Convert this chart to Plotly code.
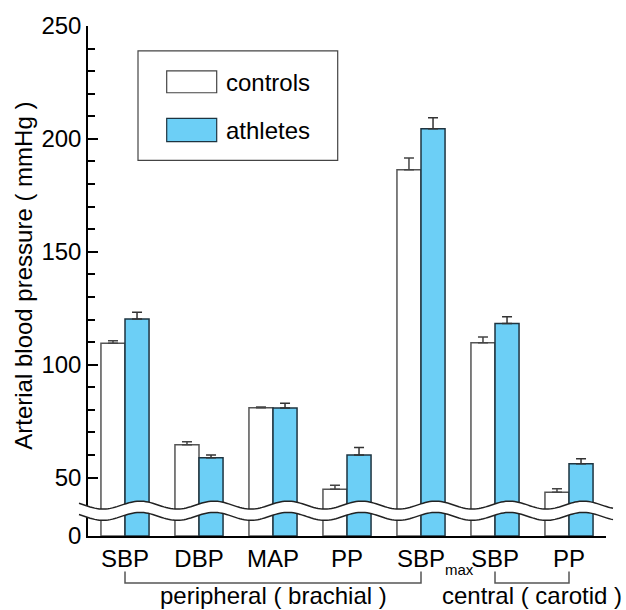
import numpy as np
import plotly.graph_objects as go
from plotly.subplots import make_subplots

# Measurements (mmHg)
labels = ["SBP", "DBP", "MAP", "PP", "SBP", "SBP", "PP"]
controls = [109.5, 64.6, 81.0, 44.9, 186.3, 109.7, 43.5]
controls_sem = [1.1, 1.3, 0.3, 1.7, 5.2, 2.6, 1.6]
athletes = [120.3, 58.8, 80.8, 60.0, 204.5, 118.2, 56.1]
athletes_sem = [2.9, 1.2, 2.1, 3.3, 4.9, 3.0, 2.3]
y_major = [50, 100, 150, 200, 250]
y_minor = [60, 70, 80, 90, 110, 120, 130, 140, 160, 170, 180, 190, 210, 220, 230, 240]

W, H = 626, 610
ML, MR, MT, MB = 88, 20, 24, 74
PW, PH = W - ML - MR, H - MT - MB
FONT = "Arial, Liberation Sans, Helvetica, sans-serif"
BLUE = "#6ccff6"
x = list(range(len(labels)))


def px_x(p):
    return (p - ML) / PW


def px_y(p):
    return (H - MB - p) / PH


split = px_y(510.7)  # fraction of the plot height used by the low (0) segment

fig = make_subplots(rows=2, cols=1, shared_xaxes=True, vertical_spacing=0)

bar_c = dict(name="controls", marker=dict(color="white", line=dict(color="#555555", width=1.5)))
bar_a = dict(name="athletes", marker=dict(color=BLUE, line=dict(color="#1e3440", width=1.5)))

# upper segment with error bars
fig.add_trace(go.Bar(x=x, y=controls, **bar_c,
                     error_y=dict(type="data", array=controls_sem, arrayminus=[0] * len(x),
                                  symmetric=False, color="#444444", thickness=1.5, width=5)),
              row=1, col=1)
fig.add_trace(go.Bar(x=x, y=athletes, **bar_a,
                     error_y=dict(type="data", array=athletes_sem, arrayminus=[0] * len(x),
                                  symmetric=False, color="#333333", thickness=1.5, width=5)),
              row=1, col=1)
# lower segment near zero
fig.add_trace(go.Bar(x=x, y=controls, **bar_c), row=2, col=1)
fig.add_trace(go.Bar(x=x, y=athletes, **bar_a), row=2, col=1)

fig.update_traces(showlegend=False)

axis_common = dict(showline=True, linecolor="black", linewidth=1.5, ticks="inside",
                   ticklen=10, tickwidth=1.5, tickcolor="black", showgrid=False, zeroline=False,
                   tickfont=dict(family=FONT, size=24, color="black"))

lo_top = (510.7 - 24) / ((477.4 - 24) / 200.0)
fig.update_layout(
    yaxis=dict(domain=[split, 1], range=[250 - lo_top, 250], tickvals=y_major,
               minor=dict(tickvals=y_minor, ticks="inside", ticklen=7, tickwidth=1.5,
                          tickcolor="black"),
               **axis_common),
    yaxis2=dict(domain=[0, split], range=[0, (536 - 510.7) / ((477.4 - 24) / 200.0)],
                tickvals=[0], **axis_common),
    xaxis=dict(range=[-0.5, 6.5], showticklabels=False, showline=False, ticks="",
               showgrid=False, zeroline=False),
    xaxis2=dict(range=[-0.5, 6.5], tickvals=x, ticktext=labels, ticks="",
                showline=True, linecolor="black", linewidth=1.5, showgrid=False,
                zeroline=False, tickfont=dict(family=FONT, size=24, color="black")),
    barmode="group", bargap=0.35, bargroupgap=0,
    width=W, height=H, margin=dict(l=ML, r=MR, t=MT, b=MB),
    paper_bgcolor="white", plot_bgcolor="white",
    font=dict(family=FONT, size=24, color="black"),
)

# axis break: white band between two wavy lines
xs = np.linspace(79, 613, 240)
period = 73.9
upper = 505 - 4 * np.cos(2 * np.pi * (xs - 140) / period)
lower = upper + 11.3


def poly(xv, yv):
    return " ".join(("M" if i == 0 else "L") + f"{px_x(a):.5f},{px_y(b):.5f}"
                    for i, (a, b) in enumerate(zip(xv, yv)))


band = poly(np.concatenate([xs, xs[::-1]]), np.concatenate([upper, lower[::-1]])) + " Z"
shapes = [
    dict(type="path", path=band, xref="paper", yref="paper", fillcolor="white",
         line=dict(width=0), layer="above"),
    dict(type="path", path=poly(xs, upper), xref="paper", yref="paper",
         line=dict(color="#222222", width=1.5), layer="above"),
    dict(type="path", path=poly(xs, lower), xref="paper", yref="paper",
         line=dict(color="#222222", width=1.5), layer="above"),
]

# group brackets under the category labels
yb, yt = px_y(583.3), px_y(571.7)
for a, b in [(0, 4), (5, 6)]:
    shapes.append(dict(type="path", xref="x2", yref="paper",
                       path=f"M{a},{yt} L{a},{yb} L{b},{yb} L{b},{yt}",
                       line=dict(color="#555555", width=1.5)))

# legend box and swatches
shapes += [
    dict(type="rect", xref="paper", yref="paper", x0=px_x(138), x1=px_x(337.7),
         y0=px_y(159), y1=px_y(49), line=dict(color="#444444", width=1.2),
         fillcolor="white"),
    dict(type="rect", xref="paper", yref="paper", x0=px_x(166.7), x1=px_x(216.7),
         y0=px_y(91), y1=px_y(69), line=dict(color="#444444", width=1.2),
         fillcolor="white"),
    dict(type="rect", xref="paper", yref="paper", x0=px_x(166.7), x1=px_x(216.7),
         y0=px_y(140), y1=px_y(116.7), line=dict(color="#1e3440", width=1.2),
         fillcolor=BLUE),
]
fig.update_layout(shapes=shapes)

ann = [
    dict(text="controls", x=px_x(224), y=px_y(81), xanchor="left", yanchor="middle"),
    dict(text="athletes", x=px_x(224), y=px_y(129), xanchor="left", yanchor="middle"),
    dict(text="Arterial blood pressure ( mmHg )", x=px_x(22.7), y=px_y(275),
         textangle=-90, xanchor="center", yanchor="middle"),
    dict(text="max", x=px_x(459), y=px_y(570), xanchor="center", yanchor="middle",
         font=dict(family=FONT, size=15, color="black")),
    dict(text="peripheral ( brachial )", x=px_x(273), y=px_y(596),
         xanchor="center", yanchor="middle"),
    dict(text="central ( carotid )", x=px_x(532), y=px_y(596),
         xanchor="center", yanchor="middle"),
]
for a in ann:
    a.setdefault("font", dict(family=FONT, size=24, color="black"))
    a.update(xref="paper", yref="paper", showarrow=False)
fig.update_layout(annotations=ann)

fig.write_html("out.html")
